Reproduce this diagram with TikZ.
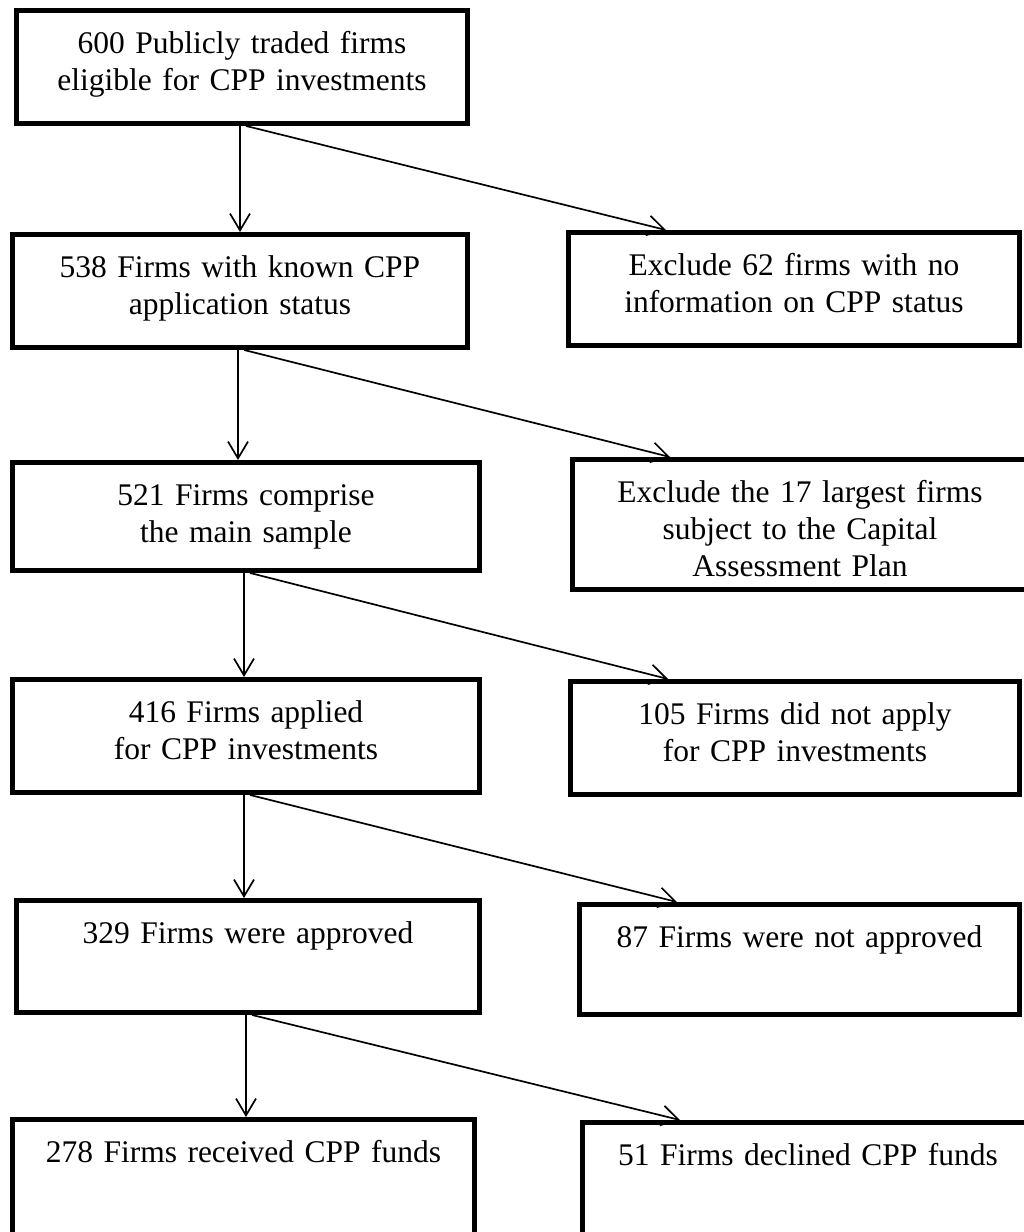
\documentclass[tikz,border=0pt]{standalone}
\usepackage{fontspec}
\setmainfont{Liberation Serif}
\usepackage{tikz}
\usetikzlibrary{arrows.meta}
\tikzset{
  ar/.style={-{Straight Barb[length=4.2mm,width=5mm]},line width=1.2pt},
  box/.style n args={2}{draw,line width=3.5pt,anchor=north,align=center,inner sep=0pt,
    text width=#1,text height=1.075cm,text depth=#2,font=\fontsize{22.4}{26.2}\selectfont}
}
\begin{document}
\begin{tikzpicture}[x=0.025cm,y=-0.025cm]
\useasboundingbox (0,0) rectangle (1024,1232);
\clip (0,0) rectangle (1024,1232);
% left column
\node[box={11.275cm}{1.75cm}] (n600) at (242,8) {600 Publicly traded firms\\ eligible for CPP investments};
\node[box={11.375cm}{1.75cm}] (n538) at (240,232) {538 Firms with known CPP\\ application status};
\node[box={11.675cm}{1.625cm}] (n521) at (246,460) {521 Firms comprise\\ the main sample};
\node[box={11.675cm}{1.75cm}] (n416) at (246,677) {416 Firms applied\\ for CPP investments};
\node[box={11.575cm}{1.725cm}] (n329) at (248,898) {329 Firms were approved};
\node[box={11.55cm}{1.875cm}] (n278) at (243.5,1117) {278 Firms received CPP funds};
% right column
\node[box={11.275cm}{1.75cm}] (x62) at (794,230) {Exclude 62 firms with no\\ information on CPP status};
\node[box={11.375cm}{2.175cm}] (x17) at (800,457) {Exclude the 17 largest firms\\ subject to the Capital\\ Assessment Plan};
\node[box={11.225cm}{1.75cm}] (x105) at (795,679) {105 Firms did not apply\\ for CPP investments};
\node[box={11cm}{1.675cm}] (x87) at (799.5,902) {87 Firms were not approved};
\node[box={11.275cm}{1.875cm}] (x51) at (808,1120) {51 Firms declined CPP funds};
% arrows
\foreach \a/\b/\c in {n600/n538/x62,n538/n521/x17,n521/n416/x105,n416/n329/x87,n329/n278/x51}{
  \draw[ar] ([xshift=-0.05cm]\a.south) -- ([xshift=-0.05cm]\a.south |- \b.north);
  \draw[ar] ([xshift=0.1cm]\a.south) -- ([xshift=2.5cm]\c.north west);
}
\end{tikzpicture}
\end{document}
